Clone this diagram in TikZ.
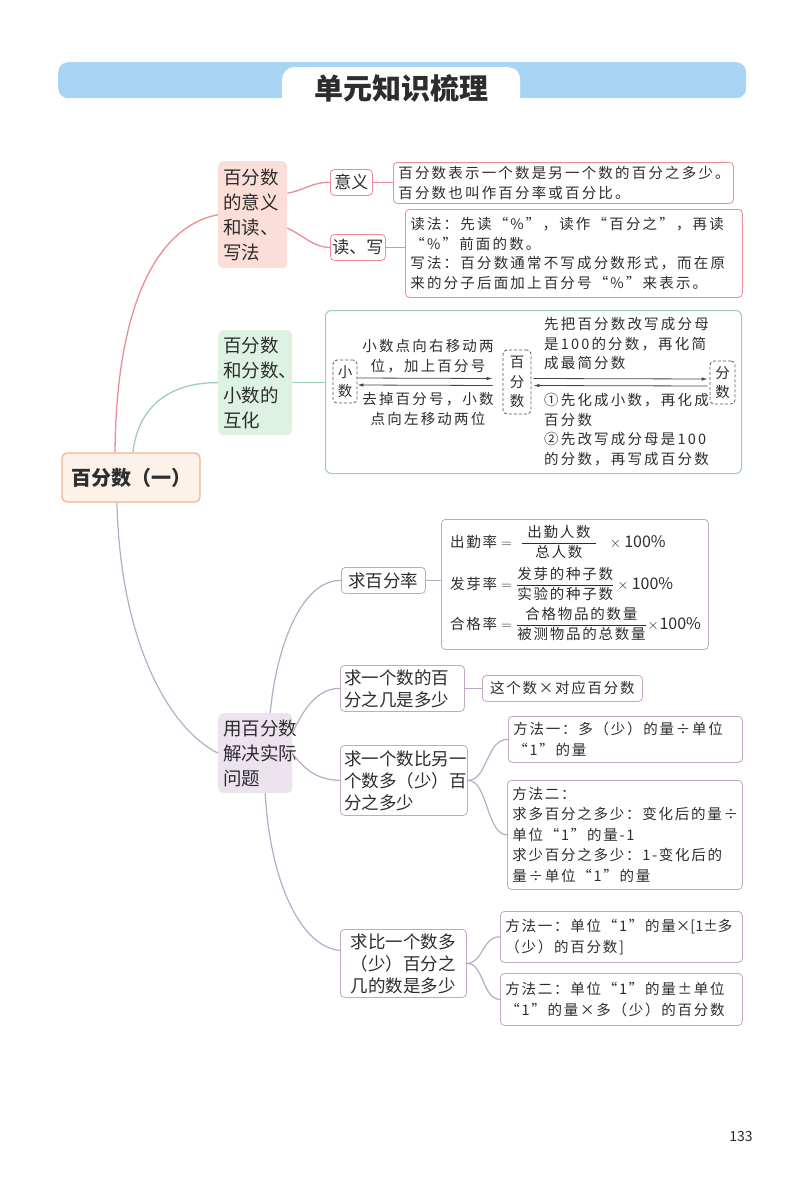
\documentclass[tikz,border=0pt]{standalone}
\usepackage{amsmath}
\usepackage{fontspec}
\setmainfont{Noto Sans CJK SC}
\newfontfamily\handfont[LetterSpace=15]{Noto Sans CJK SC}
\newfontfamily\handlow[LetterSpace=12]{Noto Sans CJK SC}
\usetikzlibrary{arrows.meta}
\definecolor{titleblue}{RGB}{168,213,243}
\definecolor{textdark}{RGB}{45,45,45}
\definecolor{rootfill}{RGB}{253,242,234}
\definecolor{rootdraw}{RGB}{243,178,140}
\definecolor{pinkfill}{RGB}{251,222,216}
\definecolor{pinkline}{RGB}{236,140,150}
\definecolor{greenfill}{RGB}{222,242,228}
\definecolor{greenline}{RGB}{155,208,178}
\definecolor{purplefill}{RGB}{236,227,238}
\definecolor{purpleline}{RGB}{188,168,200}
\definecolor{boxline}{RGB}{195,168,195}
\definecolor{dashgray}{RGB}{90,90,90}
\definecolor{arrgray}{RGB}{70,70,70}
\newcommand\mydetf{\handfont\fontsize{14.5}{19.5}\selectfont}
\newcommand\mylowf{\handlow\fontsize{14.5}{20.5}\selectfont}
\newcommand\mybrf{\fontsize{18.5}{25}\selectfont}
\newcommand\mysubtop{\fontsize{17}{21}\selectfont}
\newcommand\mysublow{\fontsize{17.5}{22}\selectfont}
\newcommand\plainpct{\text{\rmfamily\fontsize{16}{18}\selectfont 100\%}}
\tikzset{
  rootbox/.style={draw=rootdraw, fill=rootfill, line width=1.2pt, rounded corners=5pt, minimum width=138pt, minimum height=49pt, inner sep=0pt, font=\bfseries\fontsize{20}{24}\selectfont, text=textdark},
  branch/.style={rounded corners=5pt, anchor=north west, inner xsep=5pt, inner ysep=0pt, align=left, font=\mybrf, text=textdark},
  subbox/.style={draw, fill=white, rounded corners=4pt, line width=0.8pt, anchor=north west, inner xsep=4pt, inner ysep=0pt, text=textdark},
  detbox/.style={draw, fill=white, rounded corners=4pt, line width=0.8pt, anchor=north west, inner xsep=5pt, inner ysep=0pt, align=left, font=\mydetf, text=textdark},
  lowbox/.style={detbox, font=\mylowf},
  dbox/.style={draw=dashgray, dash pattern=on 3pt off 2pt, rounded corners=4pt, line width=0.8pt, inner sep=0pt, align=center, font=\mydetf, text=textdark},
  plaintxt/.style={inner sep=0pt, font=\mydetf, text=textdark},
  arr/.style={draw=arrgray, line width=0.8pt, -{Latex[length=6pt,width=3.5pt]}},
  pinkc/.style={draw=pinkline, line width=1.3pt},
  greenc/.style={draw=greenline, line width=1.3pt},
  purpc/.style={draw=purpleline, line width=1.2pt},
}
\begin{document}
\begin{tikzpicture}[x=1pt,y=-1pt]
\useasboundingbox (0,0) rectangle (800,1183);
\fill[white] (0,0) rectangle (800,1183);
% title
\node[fill=titleblue, rounded corners=10pt, minimum width=688pt, minimum height=36pt, anchor=north west, inner sep=0pt] (bar) at (58,62) {};
\node[fill=white, rounded corners=12pt, minimum width=238pt, minimum height=42pt, anchor=north west, inner sep=0pt] (tab) at (282,67) {};
\node[inner sep=0pt, font=\bfseries\fontsize{29}{32}\selectfont, text=textdark] (title) at (401,88) {单元知识梳理};

% root
\node[rootbox] (root) at (131,477.5) {百分数（一）};

% branches
\node[branch, fill=pinkfill, minimum width=69pt, minimum height=107pt, text width=59pt] (b1) at (218,161) {百分数\\的意义\\和读、\\写法};
\node[branch, fill=greenfill, minimum width=74pt, minimum height=105pt, text width=64pt] (b2) at (218,330) {百分数\\和分数、\\小数的\\互化};
\node[branch, fill=purplefill, minimum width=74pt, minimum height=80pt, text width=64pt] (b3) at (218,713) {用百分数\\解决实际\\问题};

% root connectors
\draw[pinkc] ([xshift=-16pt]root.north) .. controls (116,320) and (150,228) .. (b1.west);
\draw[greenc] ([xshift=2pt]root.north) .. controls (138,405) and (172,382) .. (b2.west);
\draw[purpc] ([xshift=-14pt]root.south) .. controls (120,640) and (168,728) .. (b3.west);

% branch 1
\node[subbox, draw=pinkline, font=\mysubtop, minimum width=42pt, minimum height=26pt, align=center, text width=36pt, inner xsep=3pt] (s11) at (330,169) {意义};
\node[subbox, draw=pinkline, font=\mysubtop, minimum width=55pt, minimum height=26pt, align=center, text width=53pt, inner xsep=1pt] (s12) at (330,234) {读、写};
\node[detbox, draw=pinkline, minimum width=340pt, minimum height=41pt, text width=330pt] (d11) at (393,162) {百分数表示一个数是另一个数的百分之多少。\\百分数也叫作百分率或百分比。};
\node[detbox, draw=pinkline, minimum width=337pt, minimum height=88pt, text width=327pt] (d12) at (405,209) {读法：先读“\%”，读作“百分之”，再读\\“\%”前面的数。\\写法：百分数通常不写成分数形式，而在原\\来的分子后面加上百分号“\%”来表示。};
\draw[pinkc] ([yshift=21.5pt]b1.east) .. controls (305,190) and (312,182) .. (s11.west);
\draw[pinkc] ([yshift=-13.5pt]b1.east) .. controls (305,236) and (312,247) .. (s12.west);
\draw[pinkc] (s11.east) -- (s11.east -| d11.west);
\draw[pinkc] (s12.east) -- (s12.east -| d12.west);

% branch 2
\node[draw=greenline, line width=1pt, rounded corners=6pt, minimum width=416pt, minimum height=163pt, anchor=north west, inner sep=0pt] (g) at (325,310) {};
\draw[greenc] (b2.east) -- (b2.east -| g.west);
\node[dbox, minimum width=24pt, minimum height=43pt] (dx) at (345,381.5) {小\\数};
\node[dbox, minimum width=28pt, minimum height=64pt] (dp) at (517,382) {百\\分\\数};
\node[dbox, minimum width=25pt, minimum height=43pt] (df) at (722.5,382.5) {分\\数};
\draw[arr] ([yshift=3.5pt]dx.east) -- ([yshift=3.5pt,xshift=-10pt]dp.west);
\draw[arr] ([yshift=-3.5pt,xshift=-10pt]dp.west) -- ([yshift=-3.5pt]dx.east);
\draw[arr] ([yshift=3.5pt,xshift=2pt]dp.east) -- ([yshift=3.5pt,xshift=-2pt]df.west);
\draw[arr] ([yshift=-3.5pt,xshift=-2pt]df.west) -- ([yshift=-3.5pt,xshift=2pt]dp.east);
\node[plaintxt, align=center] (t1) at (428,356) {小数点向右移动两\\位，加上百分号};
\node[plaintxt, align=center] (t2) at (428,409) {去掉百分号，小数\\点向左移动两位};
\node[plaintxt, align=left, anchor=west] (t3) at (544,344) {先把百分数改写成分母\\是100的分数，再化简\\成最简分数};
\node[plaintxt, align=left, anchor=west] (t4) at (544,429.5) {①先化成小数，再化成\\百分数\\②先改写成分母是100\\的分数，再写成百分数};

% branch 3
\node[subbox, draw=boxline, font=\mysublow, minimum width=84pt, minimum height=26pt, align=center, text width=76pt] (p1) at (341,567) {求百分率};
\node[lowbox, draw=boxline, minimum width=267pt, minimum height=130pt] (fb) at (441,519) {};
\node[plaintxt, font=\mylowf, anchor=west] (fm1) at (450,542) {$\text{出勤率}=\ \dfrac{\text{\ 出勤人数\ }}{\text{总人数}}\ \ \times\plainpct$};
\node[plaintxt, font=\mylowf, anchor=west] (fm2) at (450,584) {$\text{发芽率}=\dfrac{\text{发芽的种子数}}{\text{实验的种子数}}\times\plainpct$};
\node[plaintxt, font=\mylowf, anchor=west] (fm3) at (450,624) {$\text{合格率}=\dfrac{\text{合格物品的数量}}{\text{被测物品的总数量}}\!\times\!\plainpct$};
\draw[purpc] (p1.east) -- (p1.east -| fb.west);

\node[subbox, draw=boxline, font=\mysublow, minimum width=124pt, minimum height=46pt, align=left, text width=116pt] (q1) at (340,665) {求一个数的百\\分之几是多少};
\node[lowbox, draw=boxline, minimum width=160pt, minimum height=26pt, align=center, text width=150pt] (a1) at (482,675) {这个数×对应百分数};
\draw[purpc] (q1.east) -- (q1.east -| a1.west);

\node[subbox, draw=boxline, font=\mysublow, minimum width=127pt, minimum height=70pt, align=left, text width=119pt] (q2) at (340,745) {求一个数比另一\\个数多（少）百\\分之多少};
\node[lowbox, draw=boxline, minimum width=234pt, minimum height=46pt, text width=224pt] (m1) at (508,716) {方法一：多（少）的量÷单位\\“1”的量};
\node[lowbox, draw=boxline, minimum width=235pt, minimum height=109pt, text width=225pt] (m2) at (507,780) {方法二：\\求多百分之多少：变化后的量÷\\单位“1”的量-1\\求少百分之多少：1-变化后的\\量÷单位“1”的量};
\draw[purpc] (q2.east) .. controls (488,780) and (486,739) .. (m1.west);
\draw[purpc] (q2.east) .. controls (488,780) and (486,834) .. (m2.west);

\node[subbox, draw=boxline, font=\mysublow, minimum width=126pt, minimum height=68pt, align=center, text width=118pt] (r1) at (340,929) {求比一个数多\\（少）百分之\\几的数是多少};
\node[lowbox, draw=boxline, minimum width=242pt, minimum height=51pt, text width=232pt] (n1) at (500,911) {方法一：单位“1”的量{\rmfamily×[1±}多\\（少）的百分数]};
\node[lowbox, draw=boxline, minimum width=242pt, minimum height=52pt, text width=232pt] (n2) at (500,973) {方法二：单位“1”的量±单位\\“1”的量×多（少）的百分数};
\draw[purpc] (r1.east) .. controls (484,963) and (482,936) .. (n1.west);
\draw[purpc] (r1.east) .. controls (484,963) and (482,999) .. (n2.west);

% connectors from branch 3
\draw[purpc] ([xshift=15pt]b3.north) .. controls (276,650) and (300,580) .. (p1.west);
\draw[purpc] ([yshift=20pt]b3.east) .. controls (305,705) and (320,688) .. (q1.west);
\draw[purpc] (b3.east) .. controls (306,772) and (320,780) .. (q2.west);
\draw[purpc] ([xshift=10pt]b3.south) .. controls (270,880) and (300,947) .. ([yshift=13pt]r1.west);

% page number
\node[inner sep=0pt, font=\fontsize{14}{16}\selectfont, text=textdark] (pg) at (741,1136) {133};
\end{tikzpicture}
\end{document}
